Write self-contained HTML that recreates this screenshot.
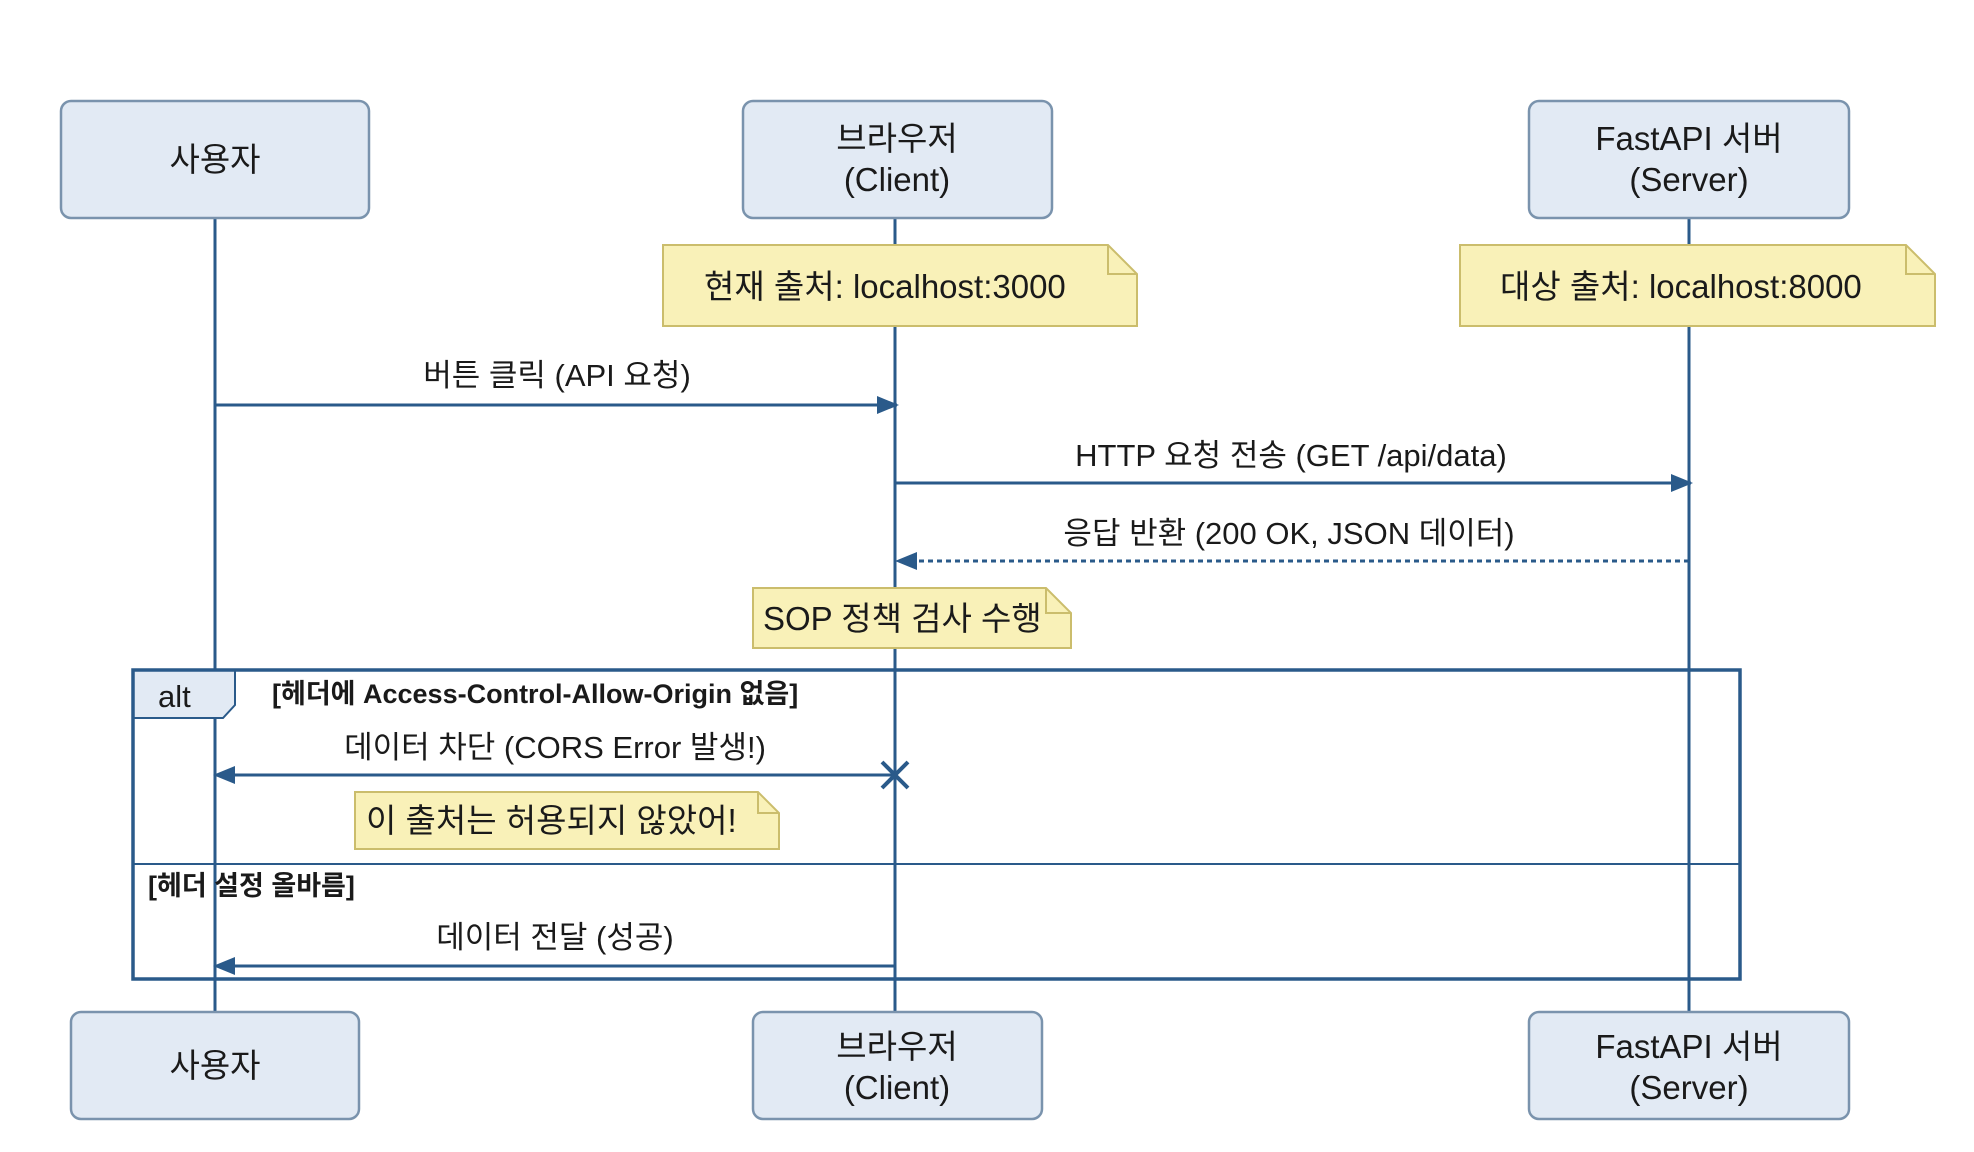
<!DOCTYPE html>
<html><head><meta charset="utf-8"><style>
html,body{margin:0;padding:0;background:#fff;width:1974px;height:1152px;overflow:hidden}
text{font-family:"Liberation Sans","Noto Sans CJK KR",sans-serif;fill:#1a1a1a}
</style></head><body>
<svg width="1974" height="1152" viewBox="0 0 1974 1152" xmlns="http://www.w3.org/2000/svg">
<defs>
<marker id="ah" markerWidth="22" markerHeight="22" refX="20" refY="11" orient="auto" markerUnits="userSpaceOnUse" viewBox="0 0 22 22">
<path d="M0,2 L22,11 L0,20 z" fill="#2a5a8a"/></marker>
</defs>
<g stroke="#2a5a8a" stroke-width="3">
<line x1="215" y1="218" x2="215" y2="1012"/>
<line x1="895" y1="218" x2="895" y2="1012"/>
<line x1="1689" y1="218" x2="1689" y2="1012"/>
</g>
<g fill="#e2eaf4" stroke="#7a93ad" stroke-width="2.5">
<rect x="61" y="101" width="308" height="117" rx="10"/>
<rect x="743" y="101" width="309" height="117" rx="10"/>
<rect x="1529" y="101" width="320" height="117" rx="10"/>
<rect x="71" y="1012" width="288" height="107" rx="10"/>
<rect x="753" y="1012" width="289" height="107" rx="10"/>
<rect x="1529" y="1012" width="320" height="107" rx="10"/>
</g>
<g font-size="33" text-anchor="middle">
<text x="215" y="171">사용자</text>
<text x="897" y="150">브라우저</text><text x="897" y="191">(Client)</text>
<text x="1689" y="150">FastAPI 서버</text><text x="1689" y="191">(Server)</text>
<text x="215" y="1077">사용자</text>
<text x="897" y="1058">브라우저</text><text x="897" y="1099">(Client)</text>
<text x="1689" y="1058">FastAPI 서버</text><text x="1689" y="1099">(Server)</text>
</g>
<g fill="#f9f1b8" stroke="#cbbd6c" stroke-width="2">
<path d="M663,245 H1108 L1137,274 V326 H663 Z"/>
<path d="M1460,245 H1906 L1935,274 V326 H1460 Z"/>
<path d="M753,588 H1046 L1071,613 V648 H753 Z"/>
<path d="M355,792 H758 L779,813 V849 H355 Z"/>
</g>
<g fill="none" stroke="#cbbd6c" stroke-width="2">
<path d="M1108,245 V274 H1137"/><path d="M1906,245 V274 H1935"/>
<path d="M1046,588 V613 H1071"/><path d="M758,792 V813 H779"/>
</g>
<g font-size="33">
<text x="704" y="298">현재 출처: localhost:3000</text>
<text x="1500" y="298">대상 출처: localhost:8000</text>
<text x="763" y="630">SOP 정책 검사 수행</text>
<text x="366" y="832">이 출처는 허용되지 않았어!</text>
</g>
<g stroke="#2a5a8a" stroke-width="3" fill="none">
<line x1="215" y1="405" x2="897" y2="405" marker-end="url(#ah)"/>
<line x1="895" y1="483" x2="1691" y2="483" marker-end="url(#ah)"/>
<line x1="1689" y1="561" x2="897" y2="561" stroke-dasharray="5,4" marker-end="url(#ah)"/>
<line x1="895" y1="775" x2="215" y2="775" marker-end="url(#ah)"/>
<line x1="895" y1="966" x2="215" y2="966" marker-end="url(#ah)"/>
<line x1="882" y1="762" x2="908" y2="788" stroke-width="4"/>
<line x1="908" y1="762" x2="882" y2="788" stroke-width="4"/>
</g>
<g font-size="31" text-anchor="middle">
<text x="557" y="386">버튼 클릭 (API 요청)</text>
<text x="1291" y="466">HTTP 요청 전송 (GET /api/data)</text>
<text x="1289" y="544">응답 반환 (200 OK, JSON 데이터)</text>
<text x="555" y="758">데이터 차단 (CORS Error 발생!)</text>
<text x="555" y="948">데이터 전달 (성공)</text>
</g>
<path d="M133,670 H235 V705 L223,718 H133 Z" fill="#e2eaf4" stroke="#2a5a8a" stroke-width="2"/>
<rect x="133" y="670" width="1607" height="309" fill="none" stroke="#2a5a8a" stroke-width="3.5"/>
<line x1="133" y1="864" x2="1740" y2="864" stroke="#2a5a8a" stroke-width="2"/>
<text x="158" y="707" font-size="31">alt</text>
<text x="272" y="703" font-size="27" font-weight="bold">[헤더에 Access-Control-Allow-Origin 없음]</text>
<text x="148" y="895" font-size="27" font-weight="bold">[헤더 설정 올바름]</text>
</svg>
</body></html>
